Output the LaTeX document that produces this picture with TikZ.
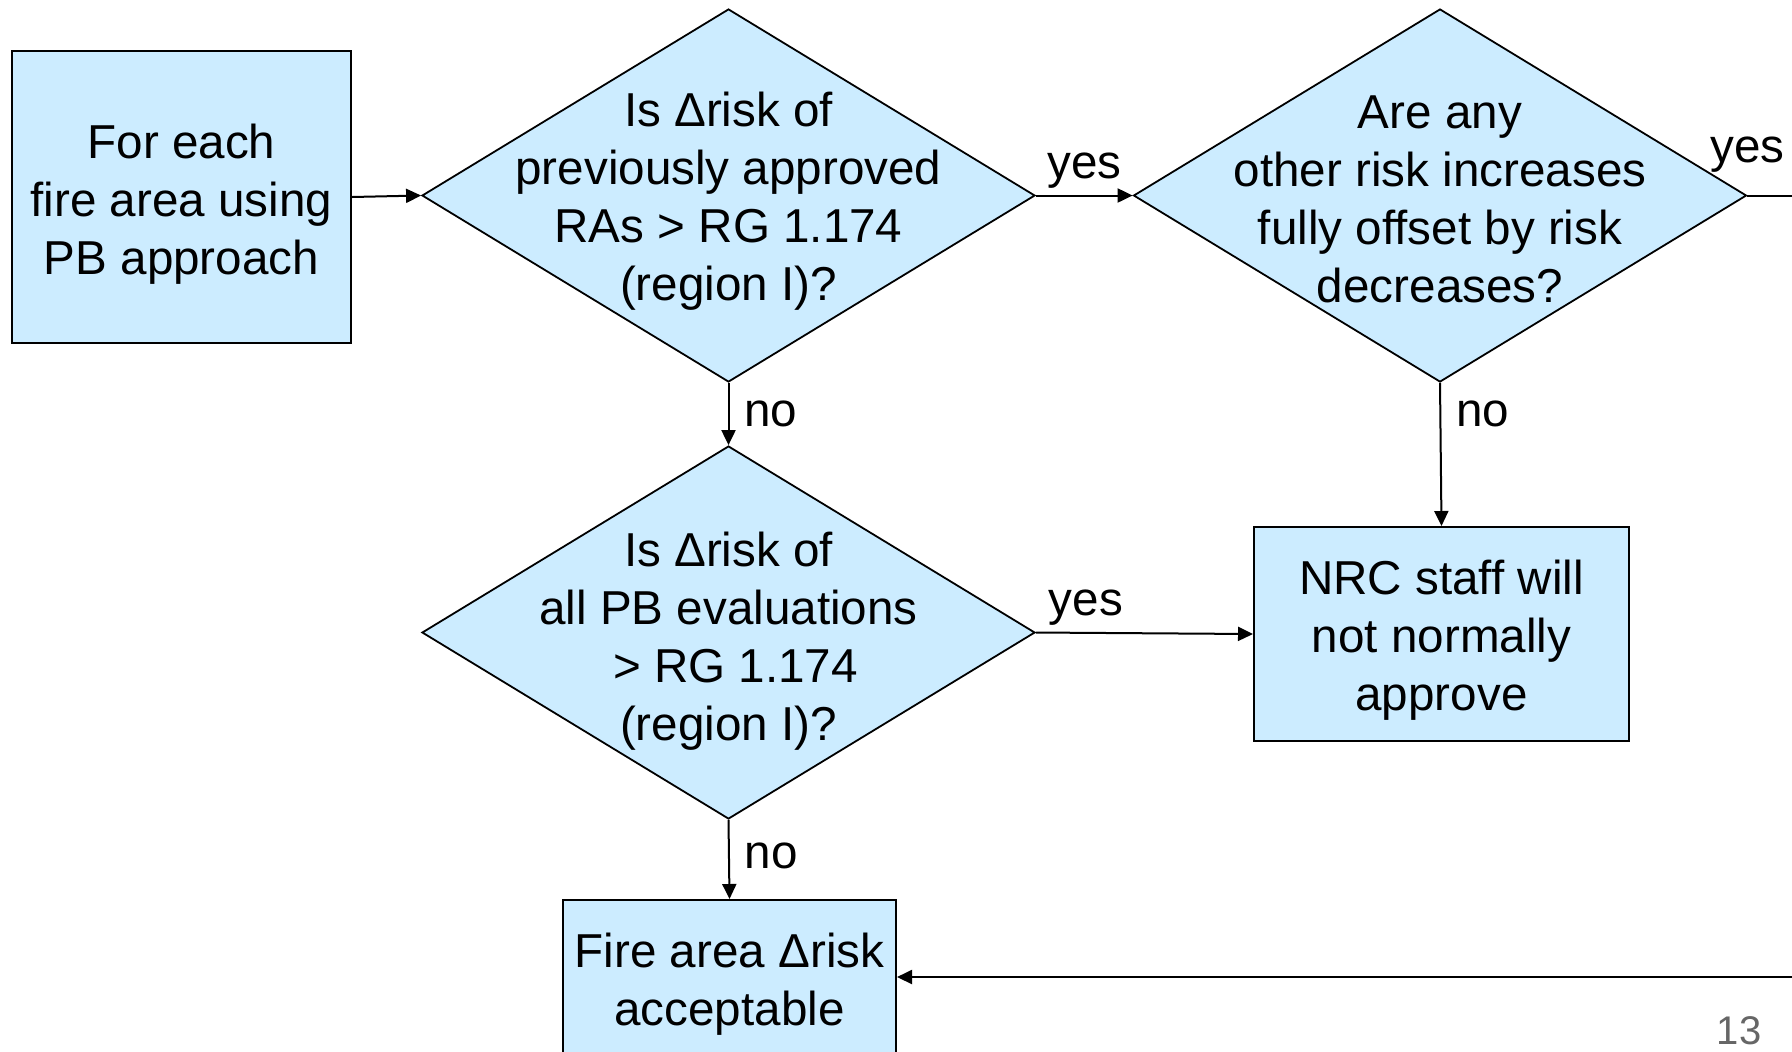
\documentclass[tikz,border=0pt]{standalone}
\usepackage{fontspec}
\setmainfont{Liberation Sans}
\usetikzlibrary{arrows.meta,shapes.geometric}
\definecolor{boxfill}{RGB}{204,236,255}
\definecolor{pgnum}{RGB}{102,102,102}
\tikzset{
  mainfont/.style={font=\fontsize{23.8pt}{29pt}\selectfont},
  flowbox/.style={draw=black, line width=1pt, fill=boxfill, rectangle, inner sep=0pt},
  decide/.style={draw=black, line width=0.9pt, fill=boxfill, diamond, inner sep=0pt, minimum width=306.5pt, minimum height=186.5pt},
  dtext/.style={align=center, inner sep=0pt, mainfont},
  conn/.style={line width=1pt, -{Triangle[length=7.5pt,width=7pt]}},
  plainline/.style={line width=1pt},
  lbl/.style={mainfont, inner sep=7.5pt},
  lblabove/.style={lbl, above, yshift=-4.5pt}
}
\begin{document}
\begin{tikzpicture}[x=0.5pt,y=-0.5pt]
\useasboundingbox (0,0) rectangle (1792,1051);
\clip (0,0) rectangle (1792,1051);

% boxes
\node[flowbox, minimum width=169.5pt, minimum height=146pt] (b1) at (181.5,197) {};
\node[dtext] (b1t) at (181.5,204) {For each\\fire area using\\PB approach};
\node[flowbox, minimum width=187.5pt, minimum height=107pt] (nrc) at (1441.5,634) {};
\node[dtext] (nrct) at (1441.5,640) {NRC staff will\\not normally\\approve};
\node[flowbox, minimum width=166.5pt, minimum height=78pt] (bf) at (729.5,978) {};
\node[dtext] (bft) at (729.5,984) {Fire area Δrisk\\acceptable};

% decisions
\node[decide] (d1) at (728.5,195.5) {};
\node[dtext] (d1t) at (728.5,201.5) {Is Δrisk of\\previously approved\\RAs > RG 1.174\\(region I)?};
\node[decide] (d2) at (1440,195.5) {};
\node[dtext] (d2t) at (1440,199.5) {Are any\\other risk increases\\fully offset by risk\\decreases?};
\node[decide] (d3) at (728.5,632.5) {};
\node[dtext] (d3t) at (728.5,641) {Is Δrisk of\\all PB evaluations\hspace*{12pt}\\\hspace*{7pt}> RG 1.174\\(region I)?};

% off-page coordinates
\coordinate (offA) at (1800,195.5);
\coordinate (offB) at (1800,977);

% connectors
\draw[conn] (b1.east) -- (d1.west);
\draw[conn] (d1.east) -- node[lblabove] (l1) {yes} (d2.west);
\draw[plainline] (d2.east) -- node[lbl, pos=0, above, yshift=3.5pt] (l2) {yes} (offA);
\draw[conn] (d1.south) -- node[lbl, right] (l3) {no} (d3.north);
\draw[conn] (d2.south) -- node[lbl, right, pos=0.22] (l4) {no} (nrc.north);
\draw[conn] (d3.east) -- node[lblabove, pos=0.23] (l5) {yes} (nrc.west);
\draw[conn] (d3.south) -- node[lbl, right, pos=0.45] (l6) {no} (bf.north);
\draw[conn] (offB) -- (offB -| bf.east);

% page number
\node[text=pgnum, font=\fontsize{20pt}{24pt}\selectfont, inner sep=0pt] (pg) at (1739,1031) {13};
\end{tikzpicture}
\end{document}
